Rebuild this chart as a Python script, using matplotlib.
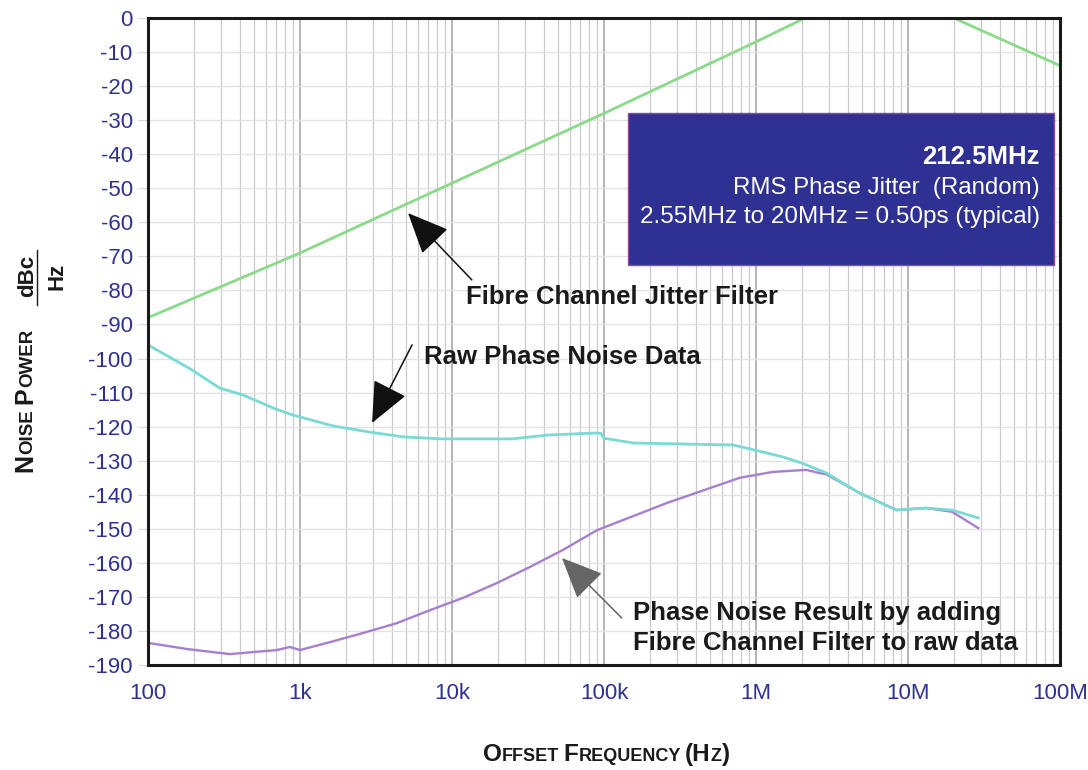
import matplotlib
matplotlib.use("Agg")
import matplotlib.pyplot as plt
from matplotlib.lines import Line2D
from matplotlib.patches import Rectangle
from matplotlib.ticker import LogLocator, NullFormatter

plt.rcParams['font.family'] = ['Liberation Sans', 'DejaVu Sans']

W, H = 1088, 770

# ---- data ----
filter_freq = [100, 1e3, 1e4, 1e5, 1e6, 2.1e6, 2.0e7, 1e8]
filter_db = [-88, -69, -48.5, -28, -7, 0, 0, -14]

raw_freq = [100, 189, 297, 422, 663, 899, 1.65e3, 2.88e3, 4.75e3, 8.4e3,
            2.5e4, 4.2e4, 8.5e4, 9.5e4, 1.0e5, 1.56e5, 7.1e5, 1.2e6, 1.5e6,
            2.0e6, 2.9e6, 4.8e6, 8.4e6, 1.31e7, 1.95e7, 2.9e7]
raw_db = [-96, -103, -108.7, -110.7, -114.5, -116.6, -119.8, -121.6, -123, -123.6,
          -123.6, -122.5, -121.9, -121.9, -123.4, -124.8, -125.4, -127.8, -128.9,
          -130.7, -133.6, -139.5, -144.5, -143.9, -144.5, -146.8]

res_freq = [100, 180, 346, 706, 858, 1.0e3, 1.57e3, 2.6e3, 4.34e3, 7.16e3,
            1.18e4, 1.98e4, 3.26e4, 5.37e4, 9.0e4, 2.6e5, 7.85e5, 1.29e6, 2.14e6,
            2.6e6, 2.9e6, 4.8e6, 8.4e6, 1.31e7, 1.95e7, 2.9e7]
res_db = [-183.5, -185.3, -186.8, -185.6, -184.7, -185.6, -183.3, -180.6, -177.7, -173.9,
          -170.3, -165.9, -161.2, -156.2, -150.4, -142.4, -135.0, -133.3, -132.7,
          -133.6, -134.0, -139.5, -144.5, -143.9, -145.0, -149.8]

xticks = [1e2, 1e3, 1e4, 1e5, 1e6, 1e7, 1e8]
xtick_labels = ["100", "1k", "10k", "100k", "1M", "10M", "100M"]
yticks = list(range(-190, 1, 10))

tick_blue = "#2E3192"
ink = "#1a1a1a"


def fpx(x, y):
    # figure pixel (from top-left) -> figure fraction
    return (x / W, 1 - y / H)


fig = plt.figure(figsize=(W / 100, H / 100), dpi=100)
ax = fig.add_axes([148 / W, 1 - 665 / H, (1060 - 148) / W, (665 - 18) / H])

ax.set_xscale("log")
ax.set_xlim(1e2, 1e8)
ax.set_ylim(-190, 0)

# grid
ax.xaxis.set_minor_locator(LogLocator(base=10, subs=range(2, 10)))
ax.xaxis.set_minor_formatter(NullFormatter())
ax.grid(which="minor", axis="x", color="#cacaca", lw=0.9)
ax.grid(which="major", axis="x", color="#a8a8a8", lw=1.2)
ax.grid(which="major", axis="y", color="#e2e2e2", lw=1.0)
ax.set_axisbelow(True)

ax.set_xticks(xticks)
ax.set_xticklabels(xtick_labels)
ax.set_yticks(yticks)
ax.set_yticklabels([str(v) for v in yticks])
ax.tick_params(axis="x", which="both", length=0, pad=13, labelsize=16, labelcolor=tick_blue)
ax.tick_params(axis="y", length=7, color="#d6d6d6", pad=4, labelsize=16, labelcolor=tick_blue)

for s in ax.spines.values():
    s.set_linewidth(2.2)
    s.set_color(ink)

# curves
ax.plot(filter_freq, filter_db, color="#8ada8a", lw=2)
ax.plot(res_freq, res_db, color="#a77fd0", lw=1.7)
ax.plot(raw_freq, raw_db, color="#7adad4", lw=2)

# info box
ax.add_patch(Rectangle((0.5263, 0.6182), 0.4671, 0.2350, transform=ax.transAxes,
                       facecolor="#2E3192", edgecolor="#8a4a9e", lw=1, zorder=5))
ax.text(0.978, 0.785, "212.5MHz", transform=ax.transAxes, ha="right", va="center",
        color="white", fontsize=18.5, fontweight="bold", zorder=6)
ax.text(0.978, 0.737, "RMS Phase Jitter  (Random)", transform=ax.transAxes, ha="right",
        va="center", color="white", fontsize=17.3, zorder=6)
ax.text(0.978, 0.692, "2.55MHz to 20MHz = 0.50ps (typical)", transform=ax.transAxes,
        ha="right", va="center", color="white", fontsize=17.5, zorder=6)

# annotations
big_arrow = dict(arrowstyle="-|>,head_length=2.6,head_width=1.15", mutation_scale=10,
                 color="#111111", lw=1.1, shrinkA=0, shrinkB=0)
ax.annotate("", xy=(5.14e3, -57.3), xytext=(1.35e4, -76.9), arrowprops=big_arrow)
ax.text(1.24e4, -81.9, "Fibre Channel Jitter Filter", ha="left", va="center",
        fontsize=18.5, fontweight="bold", color=ink)

ax.annotate("", xy=(2.98e3, -118.9), xytext=(5.46e3, -96.0), arrowprops=big_arrow)
ax.text(6.54e3, -99.6, "Raw Phase Noise Data", ha="left", va="center",
        fontsize=18.5, fontweight="bold", color=ink)

gray_arrow = dict(big_arrow, color="#666666")
ax.annotate("", xy=(5.29e4, -158.6), xytext=(1.31e5, -176.2), arrowprops=gray_arrow)
ax.text(1.55e5, -179.1, "Phase Noise Result by adding\nFibre Channel Filter to raw data",
        ha="left", va="center", fontsize=18.5, fontweight="bold", color=ink,
        linespacing=1.3)


# small caps axis labels
def small_caps_h(parts, x0, ybase):
    prev = None
    for txt, size, gap in parts:
        if prev is None:
            prev = fig.text(*fpx(x0, ybase), txt, fontsize=size, fontweight="bold",
                            ha="left", va="baseline", color=ink)
        else:
            prev = ax.annotate(txt, xy=(1, H - ybase), xycoords=(prev, "figure pixels"),
                               xytext=(gap, 0), textcoords="offset points",
                               fontsize=size, fontweight="bold", ha="left",
                               va="baseline", color=ink, annotation_clip=False)


def small_caps_v(parts, xbase, y0):
    prev = None
    for txt, size, gap in parts:
        if prev is None:
            prev = fig.text(*fpx(xbase, y0), txt, fontsize=size, fontweight="bold",
                            rotation=90, rotation_mode="anchor", ha="left",
                            va="baseline", color=ink)
        else:
            prev = ax.annotate(txt, xy=(xbase, 1), xycoords=("figure pixels", prev),
                               xytext=(0, gap), textcoords="offset points",
                               fontsize=size, fontweight="bold", rotation=90,
                               rotation_mode="anchor", ha="left", va="baseline",
                               color=ink, annotation_clip=False)


small_caps_h([("O", 17.5, 0), ("FFSET", 13, 0), ("F", 17.5, 3), ("REQUENCY", 13, 0),
              ("(H", 17.5, 3), ("Z", 13, 0), (")", 17.5, 0)], 483, 761)
small_caps_v([("N", 18, 0), ("OISE", 13.5, 0), ("P", 18, 4), ("OWER", 13.5, 0)], 32, 472)

fig.text(*fpx(33, 276), "dBc", fontsize=16, fontweight="bold", rotation=90,
         rotation_mode="anchor", ha="center", va="baseline", color=ink)
fig.text(*fpx(63, 276), "Hz", fontsize=16, fontweight="bold", rotation=90,
         rotation_mode="anchor", ha="center", va="baseline", color=ink)
fig.add_artist(Line2D([37 / W, 37 / W], [1 - 250 / H, 1 - 305 / H],
                      transform=fig.transFigure, color=ink, lw=1))

fig.savefig("out.png", dpi=100)
